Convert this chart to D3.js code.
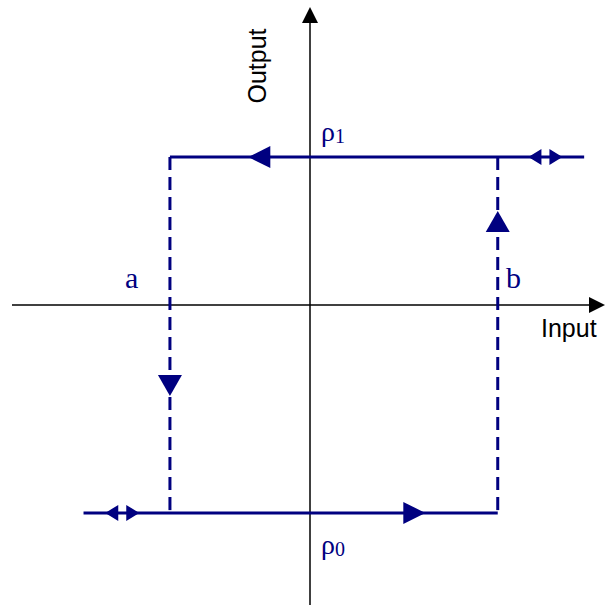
<!DOCTYPE html>
<html>
<head>
<meta charset="utf-8">
<script src="https://cdn.jsdelivr.net/npm/d3@7"></script>
<style>
  body { margin: 0; background: #fff; }
</style>
</head>
<body>
<div id="chart"></div>
<script>
// hysteresis values (input / output units, -100..100)
const thresholds = { a: -47, b: 63 };
const levels = { rho1: 49.3, rho0: -69.3 };
const lineEnds = { lowLeft: -76, highRight: 92 };
// arrow markers: position along the path + direction
const flowArrows = [
    { x: -17, y: 49.3, dir: "left" },
    { x: 35, y: -69.3, dir: "right" },
    { x: -47, y: -27, dir: "down" },
    { x: 63, y: 28, dir: "up" }
];
const doubleArrows = [
    { x: 79, y: 49.3 },
    { x: -63, y: -69.3 }
];

const width = 605, height = 606;
const navy = "#000080";

const svg = d3.select("#chart")
    .append("svg")
    .attr("width", width)
    .attr("height", height);

const xScale = d3.scaleLinear().domain([-100, 100]).range([12, 608]);
const yScale = d3.scaleLinear().domain([-100, 100]).range([605, 5]);

// Axes
svg.append("line")
    .attr("x1", xScale(-100)).attr("x2", xScale(98))
    .attr("y1", yScale(0)).attr("y2", yScale(0))
    .attr("stroke", "#000").attr("stroke-width", 1.5);
svg.append("path")
    .attr("d", `M${xScale(99)},${yScale(0)} l-16,-8 l0,16 z`)
    .attr("fill", "#000");

svg.append("line")
    .attr("x1", xScale(0)).attr("x2", xScale(0))
    .attr("y1", yScale(-100)).attr("y2", yScale(97))
    .attr("stroke", "#000").attr("stroke-width", 1.5);
svg.append("path")
    .attr("d", `M${xScale(0)},${yScale(99.3)} l-8,16 l16,0 z`)
    .attr("fill", "#000");

// Axis labels
const sans = "Liberation Sans, Arial, sans-serif";
svg.append("text")
    .attr("transform", `translate(266, 66) rotate(-90)`)
    .attr("text-anchor", "middle")
    .style("font-family", sans)
    .style("font-size", "25px")
    .text("Output");

svg.append("text")
    .attr("x", 541).attr("y", 337)
    .style("font-family", sans)
    .style("font-size", "25px")
    .text("Input");

// Solid levels
svg.append("line")
    .attr("x1", xScale(thresholds.a)).attr("x2", xScale(lineEnds.highRight))
    .attr("y1", yScale(levels.rho1)).attr("y2", yScale(levels.rho1))
    .attr("stroke", navy).attr("stroke-width", 3);
svg.append("line")
    .attr("x1", xScale(lineEnds.lowLeft)).attr("x2", xScale(thresholds.b))
    .attr("y1", yScale(levels.rho0)).attr("y2", yScale(levels.rho0))
    .attr("stroke", navy).attr("stroke-width", 3);

// Dashed switching lines
[thresholds.a, thresholds.b].forEach(t => {
    svg.append("line")
        .attr("x1", xScale(t)).attr("x2", xScale(t))
        .attr("y1", yScale(levels.rho1)).attr("y2", yScale(levels.rho0))
        .attr("stroke", navy).attr("stroke-width", 3)
        .attr("stroke-dasharray", "13,7");
});

// Arrow heads
const head = {
    left:  "l22,-11 l0,22 z",
    right: "l-22,-11 l0,22 z",
    down:  "l-12,-21 l24,0 z",
    up:    "l-12,21 l24,0 z"
};
const tipOffset = { left: [-11, 0], right: [11, 0], down: [0, 10], up: [0, -10] };

svg.selectAll(".flow")
    .data(flowArrows)
    .join("path")
    .attr("class", "flow")
    .attr("d", d => {
        const o = tipOffset[d.dir];
        return `M${xScale(d.x) + o[0]},${yScale(d.y) + o[1]} ` + head[d.dir];
    })
    .attr("fill", navy);

// Double arrows (<>)
svg.selectAll(".dbl")
    .data(doubleArrows)
    .join("path")
    .attr("class", "dbl")
    .attr("d", d => {
        const cx = xScale(d.x), cy = yScale(d.y);
        return `M${cx - 17},${cy} l13,-8 l0,16 z M${cx + 17},${cy} l-13,-8 l0,16 z`;
    })
    .attr("fill", navy);

// Labels
const serif = "Liberation Serif, Times New Roman, serif";
svg.append("text")
    .attr("x", 125).attr("y", 288)
    .style("font-family", serif).style("font-size", "30px")
    .attr("fill", navy).text("a");
svg.append("text")
    .attr("x", 506).attr("y", 288)
    .style("font-family", serif).style("font-size", "30px")
    .attr("fill", navy).text("b");

const rho = [
    { x: 321, y: 141, sub: "1" },
    { x: 321, y: 554, sub: "0" }
];
rho.forEach(r => {
    const t = svg.append("text")
        .attr("x", r.x).attr("y", r.y)
        .style("font-family", serif)
        .attr("fill", navy);
    t.append("tspan").style("font-size", "28px").text("ρ");
    t.append("tspan").attr("dy", 2).style("font-size", "20px").text(r.sub);
});
</script>
</body>
</html>
